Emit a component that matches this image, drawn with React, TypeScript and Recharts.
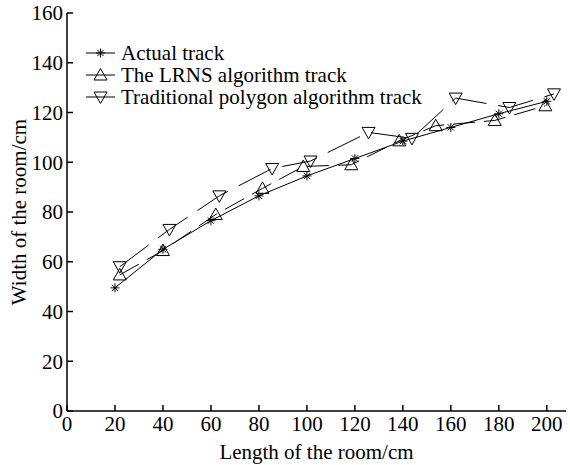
import React from 'react';
import { LineChart, Line, XAxis, YAxis, Legend } from 'recharts';

// x positions (cm) and widths (cm)
const actualX = [20, 40, 60, 80, 100, 120, 140, 160, 180, 200];
const actualY = [49.5, 65, 76.5, 86.5, 94.5, 101.5, 108.5, 114, 119.5, 124.5];

const lrnsX = [22, 40, 62, 81.5, 98.5, 118.5, 138.5, 153.7, 178.3, 199.4];
const lrnsY = [54.7, 64.5, 79, 89.5, 98.3, 99, 108.6, 114.7, 116.8, 122.7];

const tradX = [22, 42.7, 63.5, 85.5, 101.5, 125.7, 143.8, 162, 184.4, 203];
const tradY = [58, 73, 86.5, 97.5, 100.5, 112, 109.6, 125.8, 122, 127.5];

const xTicks = [0, 20, 40, 60, 80, 100, 120, 140, 160, 180, 200];
const yTicks = [0, 20, 40, 60, 80, 100, 120, 140, 160];

const toPoints = (xs: number[], ys: number[]) => xs.map((x, i) => ({ x, y: ys[i] }));

const FONT = '"Liberation Serif", "Times New Roman", serif';

const Star = ({ cx, cy }: { cx: number; cy: number }) => {
  const r = 4.5;
  const d = r * 0.7;
  return (
    <g stroke="#000" strokeWidth={1}>
      <line x1={cx} y1={cy - r} x2={cx} y2={cy + r} />
      <line x1={cx - r} y1={cy} x2={cx + r} y2={cy} />
      <line x1={cx - d} y1={cy - d} x2={cx + d} y2={cy + d} />
      <line x1={cx - d} y1={cy + d} x2={cx + d} y2={cy - d} />
    </g>
  );
};

const TriUp = ({ cx, cy }: { cx: number; cy: number }) => (
  <polygon
    points={`${cx},${cy - 6.5} ${cx - 6.5},${cy + 5} ${cx + 6.5},${cy + 5}`}
    fill="none"
    stroke="#000"
    strokeWidth={1}
  />
);

const TriDown = ({ cx, cy }: { cx: number; cy: number }) => (
  <polygon
    points={`${cx},${cy + 6.5} ${cx - 6.5},${cy - 5} ${cx + 6.5},${cy - 5}`}
    fill="none"
    stroke="#000"
    strokeWidth={1}
  />
);

const series = [
  { name: 'Actual track', data: toPoints(actualX, actualY), dash: undefined, Marker: Star },
  { name: 'The LRNS algorithm track', data: toPoints(lrnsX, lrnsY), dash: '22 9', Marker: TriUp },
  { name: 'Traditional polygon algorithm track', data: toPoints(tradX, tradY), dash: '36 12', Marker: TriDown },
];

const renderLegend = () => (
  <div style={{ fontFamily: FONT, fontSize: 21, color: '#000' }}>
    {series.map((s) => (
      <div key={s.name} style={{ display: 'flex', alignItems: 'center', height: 22 }}>
        <svg width={30} height={22} style={{ overflow: 'visible' }}>
          <line x1={0} y1={11} x2={29} y2={11} stroke="#000" strokeWidth={1} />
          <s.Marker cx={14.5} cy={11} />
        </svg>
        <span style={{ marginLeft: 5, whiteSpace: 'nowrap', lineHeight: '22px' }}>{s.name}</span>
      </div>
    ))}
  </div>
);

const YLabel = () => (
  <text
    x={19}
    y={212}
    transform="rotate(-90 19 212)"
    textAnchor="middle"
    dominantBaseline="central"
    fontFamily={FONT}
    fontSize={21}
    fill="#000"
  >
    Width of the room/cm
  </text>
);

export default function App() {
  const tickStyle = { fontFamily: FONT, fontSize: 21, fill: '#000' };
  return (
    <div style={{ width: 570, height: 465, background: '#fff' }}>
      <style>{'body{margin:0}'}</style>
      <LineChart width={570} height={465} margin={{ top: 13, right: 4, bottom: 0, left: 7 }}>
        <XAxis
          type="number"
          dataKey="x"
          domain={[0, 208]}
          ticks={xTicks}
          allowDataOverflow
          height={54}
          tickSize={-6}
          tickMargin={11}
          tick={tickStyle}
          axisLine={{ stroke: '#000', strokeWidth: 1.5 }}
          tickLine={{ stroke: '#000', strokeWidth: 1.5 }}
          label={{
            value: 'Length of the room/cm',
            position: 'insideBottom',
            offset: 6,
            style: { fontFamily: FONT, fontSize: 21, fill: '#000' },
          }}
        />
        <YAxis
          type="number"
          dataKey="y"
          domain={[0, 160]}
          ticks={yTicks}
          width={60}
          tickSize={-6}
          tickMargin={10}
          tick={tickStyle}
          axisLine={{ stroke: '#000', strokeWidth: 1.5 }}
          tickLine={{ stroke: '#000', strokeWidth: 1.5 }}
          label={{ content: () => <YLabel /> }}
        />
        <Legend
          layout="vertical"
          align="center"
          verticalAlign="middle"
          content={renderLegend}
          wrapperStyle={{ left: 86, top: 42, width: 'auto', height: 'auto' }}
        />
        {series.map((s) => (
          <Line
            key={s.name}
            data={s.data}
            dataKey="y"
            name={s.name}
            type="linear"
            stroke="#000"
            strokeWidth={1}
            strokeDasharray={s.dash}
            isAnimationActive={false}
            dot={(p: any) => <s.Marker key={`${s.name}-${p.index}`} cx={p.cx} cy={p.cy} />}
            activeDot={false}
          />
        ))}
      </LineChart>
    </div>
  );
}
